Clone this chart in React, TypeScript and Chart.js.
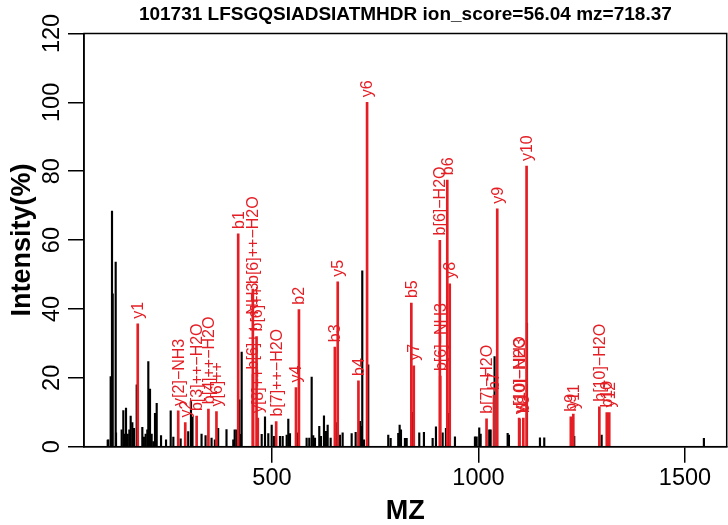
import React, { useEffect, useRef } from "react";
import { Chart, registerables } from "chart.js";

Chart.register(...registerables);

const TITLE = "101731 LFSGQSIADSIATMHDR ion_score=56.04 mz=718.37";
const X_LABEL = "MZ";
const Y_LABEL = "Intensity(%)";
const X_MIN = 45;
const X_MAX = 1601;
const X_TICKS = [500, 1000, 1500];
const Y_TICKS = [0, 20, 40, 60, 80, 100, 120];

// unmatched (black) peaks
const peakMz = [
  102.4, 103.9, 109.6, 112.8, 114.5, 121.7, 122.5, 136.2, 140.2, 142.6, 146.7, 150.8, 154.8, 158.0,
  162.0, 166.0, 172.6, 186.2, 190.0, 194.3, 198.3, 200.7, 204.8, 208.8, 212.8, 216.9, 221.0, 231.5,
  243.6, 254.9, 261.3, 279.0, 297.3, 304.0, 307.7, 329.6, 339.3, 353.8, 361.9, 369.8, 390.0, 406.4,
  409.8, 414.3, 421.0, 423.9, 426.7, 475.2, 483.2, 491.2, 499.4, 505.0, 519.5, 526.0, 535.7, 539.6,
  543.7, 561.3, 584.0, 590.4, 596.2, 600.0, 604.2, 614.6, 618.7, 626.0, 630.8, 634.9, 642.2, 654.5,
  664.7, 671.2, 693.0, 702.7, 713.1, 715.5, 718.7, 722.8, 733.2, 781.6, 787.4, 805.8, 809.2, 812.4,
  822.0, 826.2, 840.2, 856.7, 868.0, 889.1, 897.1, 913.3, 921.3, 926.9, 943.1, 991.5, 995.6, 1001.9,
  1005.3, 1026.1, 1029.5, 1039.0, 1070.7, 1073.8, 1117.5, 1148.9, 1159.3, 1231.9, 1298.2, 1545.8,
];
const peakIntensity = [
  1.9, 2.0, 20.4, 68.4, 44.4, 53.6, 4.0, 4.9, 10.5, 3.7, 11.2, 3.7, 4.9, 8.9,
  7.0, 5.3, 18.0, 5.6, 2.8, 3.7, 4.9, 24.7, 16.7, 3.7, 1.5, 9.7, 12.6, 3.2,
  2.0, 10.4, 2.8, 2.3, 4.4, 13.1, 8.7, 3.7, 3.2, 2.5, 2.0, 5.3, 5.0, 2.0,
  4.9, 4.9, 13.6, 3.6, 27.5, 3.6, 8.7, 3.8, 6.3, 3.0, 3.0, 3.0, 3.4, 8.0,
  3.8, 4.0, 2.5, 2.5, 20.2, 3.2, 2.5, 5.9, 3.0, 9.0, 4.5, 6.3, 2.5, 7.0,
  3.4, 4.0, 3.8, 4.2, 7.4, 5.9, 51.1, 2.0, 23.8, 3.4, 2.4, 3.9, 6.3, 4.9,
  2.4, 2.4, 10.0, 4.0, 4.2, 2.4, 5.8, 4.0, 5.3, 9.7, 2.9, 2.9, 2.9, 5.5,
  3.7, 4.9, 4.9, 26.2, 3.9, 3.4, 35.9, 2.6, 2.6, 3.0, 3.4, 2.4,
];

// matched (red) fragment ions
const ionMz = [
  175.12, 273.12, 290.15, 317.70, 346.21, 365.67, 418.30, 453.75, 454.25, 462.76, 465.73, 510.29,
  558.25, 565.36, 652.40, 659.29, 709.42, 730.33, 837.48, 843.41, 906.50, 907.49, 924.51, 930.45,
  1019.58, 1037.59, 1045.47, 1098.50, 1099.49, 1108.63, 1116.51, 1223.66, 1229.59, 1292.68, 1310.69,
  1316.63,
];
const ionIntensity = [
  35.7, 10.4, 7.0, 8.9, 10.9, 10.2, 61.8, 45.8, 21.0, 32.0, 8.3, 7.3,
  17.2, 39.8, 28.9, 47.9, 19.1, 100.0, 41.7, 23.5, 59.9, 20.5, 77.4, 47.3,
  8.1, 15.0, 69.1, 8.3, 8.0, 8.3, 81.5, 8.7, 9.5, 11.6, 9.9,
  9.9,
];
const ionLabels = [
  "y1", "y[2]−NH3", "y2", "b[3]++−H2O", "b[4]++−H2O", "y[6]++", "b1", "b[6]++−H2O", "b[6]++−NH3",
  "b[6]++", "y[8]++", "b[7]++−H2O", "y4", "b2", "b3", "y5", "b4", "y6", "b5", "y7", "b[6]−H2O",
  "b[6]−NH3", "b6", "y8", "b[7]−H2O", "b7", "y9", "y[10]−H2O", "y[10]−NH3", "b8", "y10", "b9", "y11",
  "b[10]−H2O", "b10", "y12",
];

const RED = "rgb(228,30,36)";
const FONT = "'Liberation Sans', Arial, Helvetica, sans-serif";

export default function App() {
  const ref = useRef<HTMLCanvasElement>(null);

  useEffect(() => {
    document.body.style.margin = "0";
    const canvas = ref.current;
    if (!canvas) return;

    const boxPlugin = {
      id: "plotBox",
      afterDraw(chart: any) {
        const { ctx, chartArea: a } = chart;
        ctx.save();
        ctx.strokeStyle = "#000";
        ctx.lineWidth = 1.5;
        ctx.strokeRect(a.left, a.top, a.right - a.left, a.bottom - a.top);
        ctx.restore();
      },
    };

    const labelPlugin = {
      id: "ionLabels",
      afterDatasetsDraw(chart: any) {
        const xs = chart.scales.x;
        const ys = chart.scales.y;
        const c = chart.ctx;
        c.save();
        c.font = `16px ${FONT}`;
        c.fillStyle = RED;
        c.textAlign = "left";
        c.textBaseline = "middle";
        ionMz.forEach((m, i) => {
          const px = xs.getPixelForValue(m);
          const py = ys.getPixelForValue(ionIntensity[i]);
          c.save();
          c.translate(px + 1, py - 5);
          c.rotate(-Math.PI / 2);
          c.fillText(ionLabels[i], 0, 0);
          c.restore();
        });
        c.restore();
      },
    };

    const chart = new Chart(canvas, {
      type: "bar",
      data: {
        datasets: [
          {
            label: "matched",
            data: ionMz.map((m, i) => ({ x: m, y: ionIntensity[i] })),
            backgroundColor: RED,
            borderWidth: 0,
            barThickness: 2,
            grouped: false,
            order: 0,
          } as any,
          {
            label: "other",
            data: peakMz.map((m, i) => ({ x: m, y: peakIntensity[i] })),
            backgroundColor: "#000",
            borderWidth: 0,
            barThickness: 1.5,
            grouped: false,
            order: 1,
          } as any,
        ],
      },
      options: {
        animation: false,
        responsive: false,
        maintainAspectRatio: false,
        layout: { padding: { left: 0, right: 1.3, top: 0, bottom: 0 } },
        plugins: {
          legend: { display: false },
          tooltip: { enabled: false },
          title: {
            display: true,
            text: TITLE,
            fullSize: false,
            color: "#000",
            font: { family: FONT, size: 19, weight: "bold", lineHeight: 1.2 },
            padding: { top: 3.6, bottom: 7.1 },
          },
        },
        scales: {
          x: {
            type: "linear",
            min: X_MIN,
            max: X_MAX,
            offset: false,
            afterBuildTicks: (s: any) => {
              s.ticks = X_TICKS.map((v) => ({ value: v }));
            },
            afterFit: (s: any) => {
              s.height = 78.3;
            },
            grid: {
              display: true,
              offset: false,
              drawOnChartArea: false,
              drawTicks: true,
              tickLength: 16,
              color: "#000",
              lineWidth: 1.5,
            },
            border: { display: true, color: "#000", width: 1.5 },
            ticks: {
              color: "#000",
              font: { family: FONT, size: 23.5 },
              padding: 2,
              maxRotation: 0,
              minRotation: 0,
              autoSkip: false,
              callback: (v: any) => String(v),
            },
            title: {
              display: true,
              text: X_LABEL,
              color: "#000",
              font: { family: FONT, size: 27, weight: "bold", lineHeight: 1 },
              padding: { top: 0, bottom: 0 },
            },
          },
          y: {
            type: "linear",
            min: 0,
            max: 120,
            afterBuildTicks: (s: any) => {
              s.ticks = Y_TICKS.map((v) => ({ value: v }));
            },
            afterFit: (s: any) => {
              s.width = 84;
            },
            grid: {
              display: true,
              offset: false,
              drawOnChartArea: false,
              drawTicks: true,
              tickLength: 16,
              color: "#000",
              lineWidth: 1.5,
            },
            border: { display: true, color: "#000", width: 1.5 },
            ticks: {
              color: "#000",
              font: { family: FONT, size: 23.5 },
              padding: -4,
              minRotation: 90,
              maxRotation: 90,
              crossAlign: "center",
              autoSkip: false,
              callback: (v: any) => String(v),
            },
            title: {
              display: true,
              text: Y_LABEL,
              color: "#000",
              font: { family: FONT, size: 27, weight: "bold", lineHeight: 1 },
              padding: { top: 9.5, bottom: 0 },
            },
          },
        },
      } as any,
      plugins: [boxPlugin, labelPlugin],
    });

    return () => chart.destroy();
  }, []);

  return (
    <div style={{ position: "absolute", left: 0, top: 0, width: 728, height: 525 }}>
      <canvas ref={ref} width={728} height={525} style={{ display: "block" }} />
    </div>
  );
}
